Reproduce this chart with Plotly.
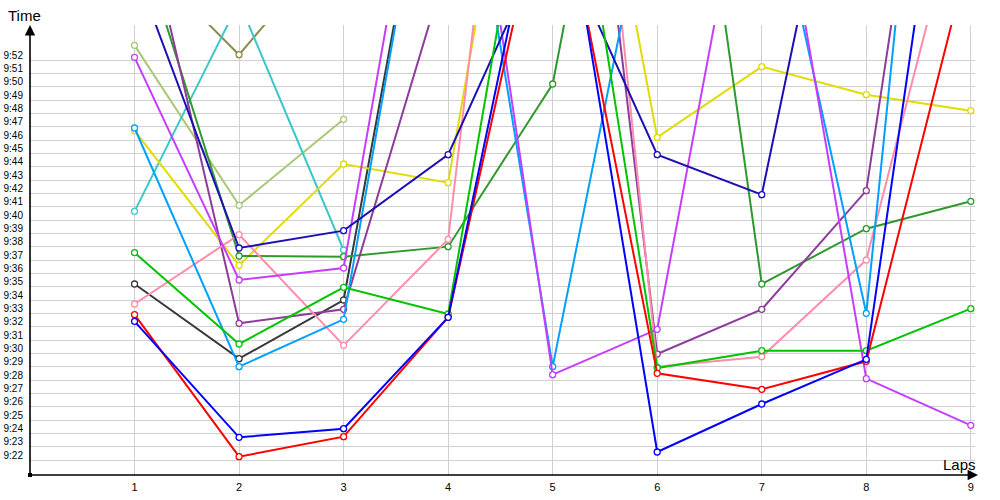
import plotly.graph_objects as go

laps = [1, 2, 3, 4, 5, 6, 7, 8, 9]

# lap times in seconds (9:22 = 562 s); None = no lap
red = [572.9, 562.25, 563.75, 572.7, 608.0, 568.5, 567.3, 569.4, 600.4]
blue = [572.4, 563.7, 564.35, 572.7, 610.2, 562.6, 566.2, 569.55, 623.8]
navy = [598.9, 577.9, 579.2, 584.9, 602.2, 584.9, 581.9, 619.5, None]
green = [577.55, 570.7, 574.95, 572.95, 618.3, 568.9, 570.2, 570.2, 573.35]
forest = [602.2, 577.3, 577.25, 578.0, 590.2, 630.9, 575.2, 579.35, 581.4]
olive = [600.25, 592.4, 601.6, None, None, None, None, None, None]
yellow = [586.7, 576.6, 584.2, 582.8, 627.9, 586.2, 591.5, 589.4, 588.2]
lightgreen = [593.1, 581.1, 587.55, None, None, None, None, None, None]
turquoise = [580.65, 596.35, 577.75, None, None, None, None, None, None]
skyblue = [586.9, 569.0, 572.55, 617.1, 569.0, 608.1, 608.65, 573.0, 650.5]
magenta = [592.2, 575.5, 576.4, 620.95, 568.4, 571.8, 613.6, 568.1, 564.6]
purple = [606.0, 572.25, 573.3, 599.4, 636.0, 569.95, 573.3, 582.2, 634.2]
pink = [573.7, 578.9, 570.6, 578.55, 644.9, 569.0, 569.75, 577.0, 607.45]
darkgray = [575.2, 569.6, 574.0, 616.8, None, None, None, None, None]

tick_seconds = list(range(562, 593))
tick_labels = ["9:%02d" % (s - 540) for s in tick_seconds]

series = [
    (olive, "#8c8a4e"),
    (lightgreen, "#a8c878"),
    (turquoise, "#3cc8c8"),
    (darkgray, "#383838"),
    (yellow, "#e0dc00"),
    (forest, "#2e9a2e"),
    (purple, "#8e3c9c"),
    (pink, "#ff8caa"),
    (skyblue, "#00a0ff"),
    (magenta, "#c83cff"),
    (navy, "#1c10b4"),
    (green, "#00c400"),
    (red, "#ff0000"),
    (blue, "#0000ff"),
]

fig = go.Figure()
for vals, col in series:
    fig.add_trace(go.Scatter(
        x=laps, y=vals, mode="lines+markers", connectgaps=False,
        line=dict(color=col, width=2),
        marker=dict(symbol="circle", size=6, color="white", line=dict(color=col, width=1.3)),
        showlegend=False, hoverinfo="skip",
    ))

font = "Liberation Sans, Arial, sans-serif"
PW, PH = 945, 450
fig.update_layout(
    width=1000, height=500,
    margin=dict(l=30, r=25, t=25, b=25, autoexpand=False),
    paper_bgcolor="white", plot_bgcolor="white",
    font=dict(family=font, size=10, color="#000"),
    xaxis=dict(range=[0, 9.04], tickvals=laps, ticktext=[str(v) for v in laps],
               showgrid=True, gridcolor="#d0d0d0", gridwidth=1, zeroline=False,
               showline=False, ticks="", tickfont=dict(size=11), ticklabelstandoff=4,
               automargin=False),
    yaxis=dict(range=[560.875, 594.625], tickvals=tick_seconds, ticktext=tick_labels,
               showgrid=True, gridcolor="#d0d0d0", gridwidth=1, zeroline=False,
               showline=False, ticks="", tickfont=dict(size=10), ticklabelstandoff=6,
               ticklabelshift=-5, automargin=False),
    annotations=[
        dict(xref="paper", yref="paper", x=0, y=1, ax=0, ay=450, text="",
             showarrow=True, arrowhead=2, arrowsize=1.3, arrowwidth=1.6, arrowcolor="black"),
        dict(xref="paper", yref="paper", x=948 / PW, y=0, ax=-948, ay=0, text="",
             showarrow=True, arrowhead=2, arrowsize=1.3, arrowwidth=1.6, arrowcolor="black"),
        dict(xref="paper", yref="paper", x=-5.5 / PW, y=1 + 9.5 / PH,
             text="Time", showarrow=False, font=dict(size=15, color="#000", family=font),
             xanchor="center", yanchor="middle"),
        dict(xref="paper", yref="paper", x=929 / PW, y=11 / PH,
             text="Laps", showarrow=False, font=dict(size=15, color="#000", family=font),
             xanchor="center", yanchor="middle"),
    ],
    shapes=[
        dict(type="rect", xref="paper", yref="paper", xsizemode="pixel", ysizemode="pixel",
             xanchor=0, yanchor=0, x0=-2, x1=2, y0=-2, y1=2,
             fillcolor="black", line=dict(width=0)),
    ],
)

fig.write_html("out.html", config={"displayModeBar": False},
               post_script="document.body.style.margin='0';")
